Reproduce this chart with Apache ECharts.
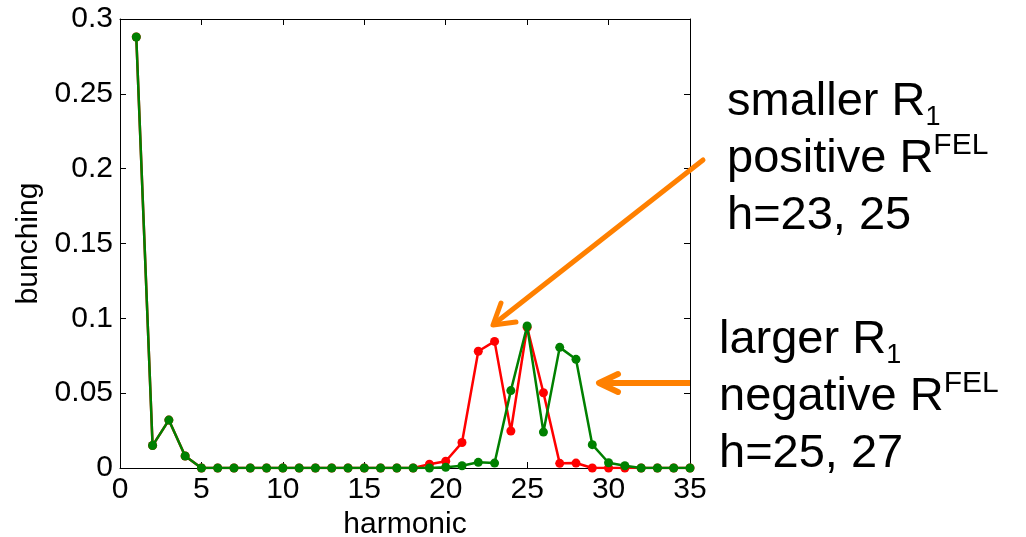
<!DOCTYPE html>
<html>
<head>
<meta charset="utf-8">
<script src="https://cdn.jsdelivr.net/npm/echarts@6/dist/echarts.min.js"></script>
<style>
  html, body { margin: 0; padding: 0; background: #fff; }
  #chart { width: 1026px; height: 537px; }
</style>
</head>
<body>
<div id="chart"></div>
<script>
const harmonics = [1, 2, 3, 4, 5, 6, 7, 8, 9, 10, 11, 12, 13, 14, 15, 16, 17, 18,
  19, 20, 21, 22, 23, 24, 25, 26, 27, 28, 29, 30, 31, 32, 33, 34, 35]
// smaller R1, positive R^FEL
const bunchingRed = [0.288, 0.015, 0.032, 0.008, 0, 0, 0, 0, 0, 0, 0, 0, 0, 0, 0, 0, 0, 0,
  0.0025, 0.0045, 0.017, 0.078, 0.0846, 0.0247, 0.094, 0.0503, 0.0031, 0.0033, 0, 0, 0, 0, 0, 0, 0]
// larger R1, negative R^FEL
const bunchingGreen = [0.288, 0.015, 0.032, 0.008, 0, 0, 0, 0, 0, 0, 0, 0, 0, 0, 0, 0, 0, 0,
  0, 0.0005, 0.0015, 0.0038, 0.0033, 0.0517, 0.0949, 0.024, 0.0806, 0.0726, 0.0156, 0.0035, 0.0015, 0, 0, 0, 0]

const font = 'Liberation Sans, Arial, Helvetica, sans-serif'
const orange = '#ff8000'

const pairs = ys => harmonics.map((h, i) => [h, ys[i]])

const axisCommon = {
  axisLine: { show: true, onZero: false, lineStyle: { color: '#000', width: 1 } },
  axisTick: { show: true, inside: true, length: 6, lineStyle: { color: '#000' } },
  splitLine: { show: false },
}

// rich text styles for the two annotation blocks
const rich = {
  m: { fontSize: 47, lineHeight: 57, verticalAlign: 'middle', fontFamily: font, color: '#000' },
  s: { fontSize: 27, lineHeight: 23, verticalAlign: 'bottom', fontFamily: font, color: '#000' },
  p: { fontSize: 30, lineHeight: 52, verticalAlign: 'top', fontFamily: font, color: '#000' },
}

const chart = echarts.init(document.getElementById('chart'), null, { renderer: 'canvas' })
chart.setOption({
  animation: false,
  backgroundColor: '#fff',
  grid: { left: 120, right: 336, top: 19, bottom: 69, outerBoundsMode: 'none', containLabel: false },
  xAxis: [
    {
      ...axisCommon,
      type: 'value',
      position: 'bottom',
      min: 0,
      max: 35,
      interval: 5,
      name: 'harmonic',
      nameLocation: 'middle',
      nameGap: 38,
      nameTextStyle: { fontSize: 30, fontFamily: font, color: '#000' },
      axisLabel: { fontSize: 30, fontFamily: font, color: '#000', margin: 7 },
    },
    {
      ...axisCommon,
      type: 'value',
      position: 'top',
      min: 0,
      max: 35,
      interval: 5,
      axisLabel: { show: false },
    },
  ],
  yAxis: [
    {
      ...axisCommon,
      type: 'value',
      position: 'left',
      min: 0,
      max: 0.3,
      interval: 0.05,
      name: 'bunching',
      nameLocation: 'middle',
      nameGap: 75,
      nameTextStyle: { fontSize: 30, fontFamily: font, color: '#000' },
      axisLabel: { fontSize: 30, fontFamily: font, color: '#000', margin: 7 },
    },
    {
      ...axisCommon,
      type: 'value',
      position: 'right',
      min: 0,
      max: 0.3,
      interval: 0.05,
      axisLabel: { show: false },
    },
  ],
  series: [
    {
      name: 'smaller R1',
      type: 'line',
      data: pairs(bunchingRed),
      symbol: 'circle',
      symbolSize: 9,
      lineStyle: { color: '#ff0000', width: 2.5 },
      itemStyle: { color: '#ff0000' },
      z: 2,
    },
    {
      name: 'larger R1',
      type: 'line',
      data: pairs(bunchingGreen),
      symbol: 'circle',
      symbolSize: 9,
      lineStyle: { color: '#008000', width: 2.5 },
      itemStyle: { color: '#008000' },
      z: 3,
    },
  ],
  graphic: [
    // arrow to the red peaks
    {
      type: 'polyline',
      shape: { points: [[703, 160], [494, 324]] },
      style: { stroke: orange, lineWidth: 5, lineCap: 'round' },
      z: 10,
    },
    {
      type: 'polyline',
      shape: { points: [[501, 303], [493, 325], [516, 322]] },
      style: { stroke: orange, lineWidth: 5, lineCap: 'round', lineJoin: 'round', fill: null },
      z: 10,
    },
    // arrow to the green peaks
    {
      type: 'polyline',
      shape: { points: [[690, 383], [600, 383]] },
      style: { stroke: orange, lineWidth: 6 },
      z: 10,
    },
    {
      type: 'polyline',
      shape: { points: [[618, 374], [599, 383], [618, 392]] },
      style: { stroke: orange, lineWidth: 6, lineCap: 'round', lineJoin: 'round', fill: null },
      z: 10,
    },
    {
      type: 'text',
      x: 727,
      y: 74,
      style: {
        text: '{m|smaller R}{s|1}\n{m|positive R}{p|FEL}\n{m|h=23, 25}',
        rich: rich,
        verticalAlign: 'top',
        align: 'left',
      },
      z: 10,
    },
    {
      type: 'text',
      x: 719,
      y: 312,
      style: {
        text: '{m|larger R}{s|1}\n{m|negative R}{p|FEL}\n{m|h=25, 27}',
        rich: rich,
        verticalAlign: 'top',
        align: 'left',
      },
      z: 10,
    },
  ],
})
</script>
</body>
</html>
